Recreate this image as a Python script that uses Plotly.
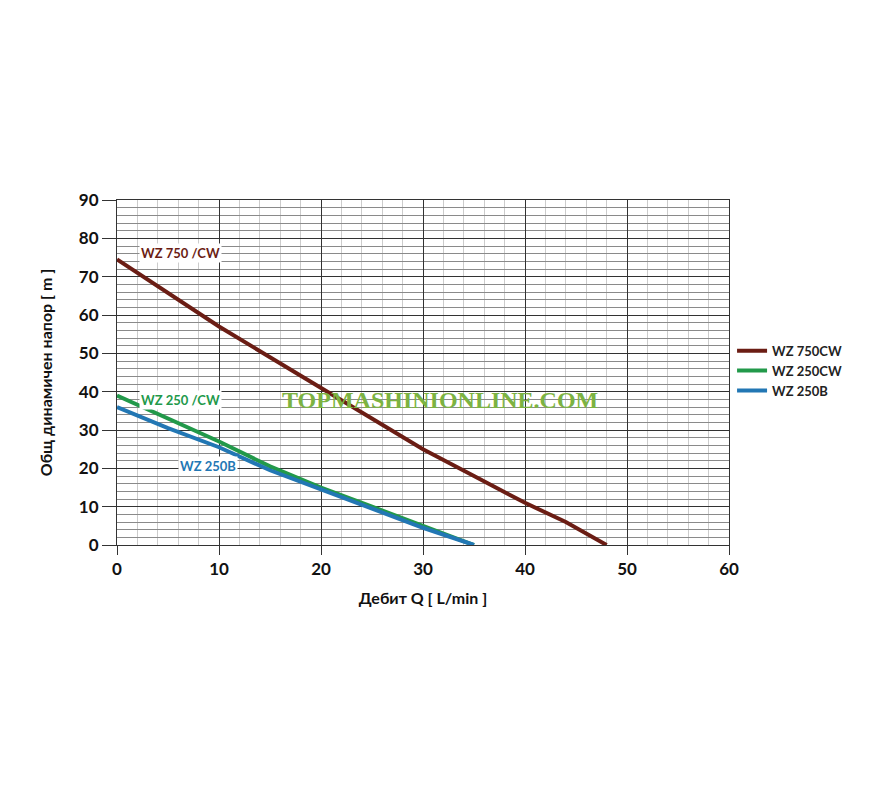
import plotly.graph_objects as go

# Flow Q [L/min] and head H [m]
q_750cw = [0, 5, 10, 15, 20, 25, 30, 35, 40, 44, 46, 48]
h_750cw = [74.5, 65.8, 57, 49, 41, 33, 25, 18, 11, 6, 3, 0]

q_250cw = [0, 5, 10, 15, 20, 25, 30, 35]
h_250cw = [39, 33, 27, 20.5, 15, 10, 5, 0]

q_250b = [0, 5, 10, 15, 20, 25, 30, 35]
h_250b = [36, 30.5, 25.5, 19.5, 14.5, 9.5, 4.5, 0]

series_names = ["WZ 750CW", "WZ 250CW", "WZ 250B"]
label_texts = ["WZ 750 /CW", "WZ 250 /CW", "WZ 250B"]
colors = ["#6b1d14", "#22994a", "#2277b4"]

x_ticks = [0, 10, 20, 30, 40, 50, 60]
y_ticks = [0, 10, 20, 30, 40, 50, 60, 70, 80, 90]

fig = go.Figure()
for q, h, name, c in zip([q_750cw, q_250cw, q_250b], [h_750cw, h_250cw, h_250b], series_names, colors):
    fig.add_trace(go.Scatter(x=q, y=h, mode="lines", name=name,
                             line=dict(color=c, width=4)))

# in-plot labels
label_pos = [(6.2, 76.2), (6.2, 37.8), (8.9, 20.6)]
for (lx, ly), t, c in zip(label_pos, label_texts, colors):
    fig.add_annotation(x=lx, y=ly, text="<b>" + t + "</b>", showarrow=False,
                       font=dict(family="Lato", size=13, color=c),
                       bgcolor="white", borderpad=1)

# watermark
fig.add_annotation(x=0.528, y=0.42, xref="paper", yref="paper",
                   text="<b>TOPMASHINIONLINE.COM</b>", showarrow=False,
                   font=dict(family="Liberation Serif", size=24, color="#7cb342"))

fig.update_layout(
    width=878, height=800,
    margin=dict(l=109, r=157, t=192, b=263),
    plot_bgcolor="white", paper_bgcolor="white",
    font=dict(family="Lato", color="#222"),
    legend=dict(x=1.005, y=0.505, xanchor="left", yanchor="middle",
                font=dict(family="Lato", size=13, color="#222", weight="bold"),
                itemwidth=30, bgcolor="rgba(0,0,0,0)"),
    showlegend=True,
)

fig.update_xaxes(
    range=[0, 60], tickvals=x_ticks, ticktext=[str(v) for v in x_ticks],
    showgrid=True, gridcolor="#333", gridwidth=1,
    showline=True, linecolor="#333", linewidth=1, mirror=True,
    ticks="outside", ticklen=9, tickcolor="#333",
    tickfont=dict(family="Lato", size=17, color="#111", weight="bold"),
    minor=dict(dtick=2, showgrid=True, gridcolor="#cccccc", gridwidth=1, griddash="solid", ticks=""),
    title=dict(text="<b>Дебит Q [ L/min ]</b>", font=dict(family="Lato", size=16, color="#111"), standoff=14),
    zeroline=False,
)
fig.update_yaxes(
    range=[0, 90], tickvals=y_ticks, ticktext=[str(v) for v in y_ticks],
    showgrid=True, gridcolor="#333", gridwidth=1,
    showline=True, linecolor="#333", linewidth=1, mirror=True,
    ticks="outside", ticklen=14, tickcolor="#333",
    tickfont=dict(family="Lato", size=17, color="#111", weight="bold"),
    minor=dict(dtick=2, showgrid=True, gridcolor="#8a8a8a", gridwidth=1, griddash="solid", ticks=""),
    title=dict(text="<b>Общ динамичен напор [ m ]</b>", font=dict(family="Lato", size=16, color="#111"), standoff=22),
    zeroline=False,
)

fig.write_html("out.html")
